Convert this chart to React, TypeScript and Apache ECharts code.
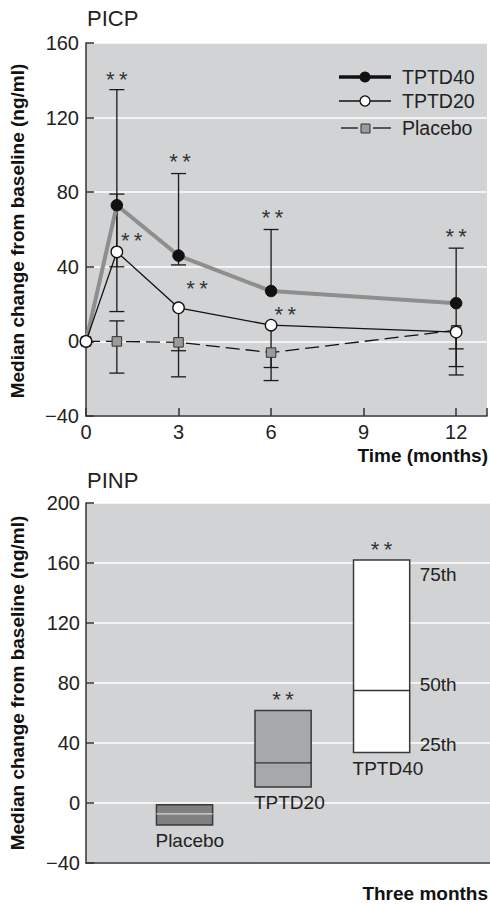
import React, { useEffect, useRef } from "react";
import * as echarts from "echarts";

// ---------- PICP (top panel) ----------
const months = [0, 1, 3, 6, 12];
const tptd40 = [0, 73, 46, 27, 20.5];
const tptd20 = [0, 48, 18, 8.7, 5];
const placebo = [0, 0, -0.5, -6, 6];
// whisker ends (null = not visible)
const tptd40Low = [null, 40, 41, null, -4];
const tptd40High = [null, 135, 90, 60, 50];
const tptd20Low = [null, 16, -5, -14, -13.5];
const tptd20High = [null, 79, null, null, null];
const placeboLow = [null, -17, -19, -21, -18];
const placeboHigh = [null, 11, null, null, null];
const picpStars: [number, number][] = [
  [1, 143], [1.48, 57], [3.05, 99], [3.6, 31], [6.05, 69], [6.46, 17], [12, 59],
];
const picpYMin = -40;
const picpYMax = 160;
const picpXMin = 0;
const picpXMax = 13;
const picpTickStep = 3;

// ---------- PINP (bottom panel) ----------
const pinpGroups = ["Placebo", "TPTD20", "TPTD40"];
const pinpQ1 = [-14.6, 10.7, 33.7];
const pinpMedian = [-7.2, 26.8, 75];
const pinpQ3 = [-1.1, 61.6, 162];
const pinpSignificant = [false, true, true];
const percentileLabels = ["75th", "50th", "25th"];
const pinpYMin = -40;
const pinpYMax = 200;

const FONT = "'Liberation Sans', Arial, sans-serif";
const TXT = "#222";
const BG = "#d2d3d5";
const AX = "#333";
const STAR = "*\u2009*";

const boxStyles = [
  { fill: "#808080", median: "#d8d8d8" },
  { fill: "#a7a8aa", median: "#333" },
  { fill: "#ffffff", median: "#333" },
];

const minusFmt = (v: number) => (v < 0 ? "\u2212" + Math.abs(v) : String(v));

export default function App() {
  const ref = useRef<HTMLDivElement>(null);
  useEffect(() => {
    if (!ref.current) return;
    const chart = echarts.init(ref.current, null, { renderer: "svg" });

    const errItems: { x: number; med: number; low: number | null; high: number | null }[] = [];
    months.forEach((m, i) => {
      const groups = [
        [tptd40[i], tptd40Low[i], tptd40High[i]],
        [tptd20[i], tptd20Low[i], tptd20High[i]],
        [placebo[i], placeboLow[i], placeboHigh[i]],
      ];
      groups.forEach(([med, low, high]) => {
        if (low == null && high == null) return;
        errItems.push({ x: m, med: med as number, low: low as any, high: high as any });
      });
    });

    const axisLineStyle = { color: AX, width: 1.5 };
    const labelStyle = { fontSize: 20, color: TXT, fontFamily: FONT };
    const starStyle = { text: STAR, fontSize: 22, fontFamily: FONT, fill: "#333", textAlign: "center", textVerticalAlign: "middle" };

    const option: any = {
      animation: false,
      grid: [
        { left: 86, top: 43, width: 408, height: 373, show: true, backgroundColor: BG, borderWidth: 0 },
        { left: 86, top: 503, width: 404, height: 360, show: true, backgroundColor: BG, borderWidth: 0 },
      ],
      xAxis: [
        {
          type: "value", gridIndex: 0, min: picpXMin, max: picpXMax, interval: picpTickStep,
          axisLine: { show: true, onZero: false, lineStyle: axisLineStyle },
          axisTick: { show: true, inside: true, length: 8, lineStyle: axisLineStyle },
          axisLabel: { ...labelStyle, margin: 6, formatter: (v: number) => (v % picpTickStep === 0 && v <= 12 ? String(v) : "") },
          splitLine: { show: false },
        },
        {
          type: "value", gridIndex: 1, min: 0, max: 4.1,
          axisLine: { show: true, onZero: false, lineStyle: axisLineStyle },
          axisTick: { show: false },
          axisLabel: { show: false },
          splitLine: { show: false },
        },
      ],
      yAxis: [
        {
          type: "value", gridIndex: 0, min: picpYMin, max: picpYMax, interval: 40,
          axisLine: { show: true, onZero: false, lineStyle: axisLineStyle },
          axisTick: { show: true, inside: true, length: 8, lineStyle: axisLineStyle },
          axisLabel: { ...labelStyle, margin: 7, formatter: minusFmt },
          splitLine: { show: true, lineStyle: { color: "#fff", width: 1.5 } },
        },
        {
          type: "value", gridIndex: 1, min: pinpYMin, max: pinpYMax, interval: 40,
          axisLine: { show: true, onZero: false, lineStyle: axisLineStyle },
          axisTick: { show: true, inside: true, length: 8, lineStyle: axisLineStyle },
          axisLabel: { ...labelStyle, margin: 6, formatter: minusFmt },
          splitLine: { show: true, lineStyle: { color: "#fff", width: 1.5 } },
        },
      ],
      series: [
        {
          type: "custom", name: "errorbars", xAxisIndex: 0, yAxisIndex: 0, z: 2, clip: false,
          data: errItems.map((d) => [d.x, d.med]),
          renderItem: (params: any, api: any) => {
            const d = errItems[params.dataIndex];
            const lo = d.low == null ? d.med : d.low;
            const hi = d.high == null ? d.med : d.high;
            const pLo = api.coord([d.x, lo]);
            const pHi = api.coord([d.x, hi]);
            const st = { stroke: "#1a1a1a", lineWidth: 1.3 };
            const children: any[] = [
              { type: "line", shape: { x1: pLo[0], y1: pLo[1], x2: pHi[0], y2: pHi[1] }, style: st },
            ];
            const hw = 7.5;
            if (d.low != null) children.push({ type: "line", shape: { x1: pLo[0] - hw, y1: pLo[1], x2: pLo[0] + hw, y2: pLo[1] }, style: st });
            if (d.high != null) children.push({ type: "line", shape: { x1: pHi[0] - hw, y1: pHi[1], x2: pHi[0] + hw, y2: pHi[1] }, style: st });
            return { type: "group", children };
          },
        },
        {
          type: "line", name: "TPTD40", xAxisIndex: 0, yAxisIndex: 0, z: 3, clip: false,
          data: months.map((m, i) => [m, tptd40[i]]),
          symbol: "circle", symbolSize: 11.5,
          itemStyle: { color: "#111", borderColor: "#111", borderWidth: 1 },
          lineStyle: { color: "#8e8e8e", width: 4 },
        },
        {
          type: "line", name: "Placebo", xAxisIndex: 0, yAxisIndex: 0, z: 4, clip: false,
          data: months.map((m, i) => [m, placebo[i]]),
          symbol: "rect", symbolSize: 9.5,
          itemStyle: { color: "#9b9b9b", borderColor: "#333", borderWidth: 1 },
          lineStyle: { color: "#111", width: 1.3, type: [14, 6] },
        },
        {
          type: "line", name: "TPTD20", xAxisIndex: 0, yAxisIndex: 0, z: 5, clip: false,
          data: months.map((m, i) => [m, tptd20[i]]),
          symbol: "circle", symbolSize: 11.5,
          itemStyle: { color: "#fff", borderColor: "#111", borderWidth: 1.3 },
          lineStyle: { color: "#111", width: 1.3 },
        },
        {
          type: "custom", name: "stars", xAxisIndex: 0, yAxisIndex: 0, z: 6, clip: false,
          data: picpStars,
          renderItem: (params: any, api: any) => {
            const p = api.coord([api.value(0), api.value(1)]);
            return { type: "text", x: p[0], y: p[1] + 5, style: { ...starStyle } };
          },
        },
        {
          type: "custom", name: "PINP", xAxisIndex: 1, yAxisIndex: 1, z: 3, clip: false,
          data: pinpGroups.map((g, i) => [i + 1, pinpQ1[i], pinpMedian[i], pinpQ3[i]]),
          renderItem: (params: any, api: any) => {
            const i = params.dataIndex;
            const x = api.value(0);
            const pBot = api.coord([x, api.value(1)]);
            const pMed = api.coord([x, api.value(2)]);
            const pTop = api.coord([x, api.value(3)]);
            const w = api.size([0.57, 0])[0];
            const left = pTop[0] - w / 2;
            const right = pTop[0] + w / 2;
            const sty = boxStyles[i];
            const txt = (text: string, tx: number, ty: number, align = "left") => ({
              type: "text", x: tx, y: ty,
              style: { text, fontSize: 19, fontFamily: FONT, fill: TXT, textAlign: align, textVerticalAlign: "middle" },
            });
            const children: any[] = [
              { type: "rect", shape: { x: left, y: pTop[1], width: w, height: pBot[1] - pTop[1] }, style: { fill: sty.fill, stroke: "#3a3a3a", lineWidth: 1.5 } },
              { type: "line", shape: { x1: left, y1: pMed[1], x2: right, y2: pMed[1] }, style: { stroke: sty.median, lineWidth: 1.3 } },
              txt(pinpGroups[i], left - 1, pBot[1] + 16),
            ];
            if (pinpSignificant[i]) {
              children.push({ type: "text", x: pTop[0], y: pTop[1] - 16 + 5, style: { ...starStyle } });
            }
            if (i === pinpGroups.length - 1) {
              children.push(txt(percentileLabels[0], right + 10, pTop[1] + 14));
              children.push(txt(percentileLabels[1], right + 10, pMed[1] - 6));
              children.push(txt(percentileLabels[2], right + 10, pBot[1] - 8));
            }
            return { type: "group", children };
          },
        },
      ],
      graphic: [
        { type: "text", x: 87, y: 18, style: { text: "PICP", fontSize: 22, fontFamily: FONT, fill: TXT, textAlign: "left", textVerticalAlign: "middle" } },
        { type: "text", x: 87, y: 480, style: { text: "PINP", fontSize: 22, fontFamily: FONT, fill: TXT, textAlign: "left", textVerticalAlign: "middle" } },
        { type: "text", x: 17, y: 231, rotation: Math.PI / 2, style: { text: "Median change from baseline (ng/ml)", fontSize: 19, fontWeight: "bold", fontFamily: FONT, fill: "#111", textAlign: "center", textVerticalAlign: "middle" } },
        { type: "text", x: 17, y: 683, rotation: Math.PI / 2, style: { text: "Median change from baseline (ng/ml)", fontSize: 19, fontWeight: "bold", fontFamily: FONT, fill: "#111", textAlign: "center", textVerticalAlign: "middle" } },
        { type: "text", x: 488, y: 455, style: { text: "Time (months)", fontSize: 19, fontWeight: "bold", fontFamily: FONT, fill: "#111", textAlign: "right", textVerticalAlign: "middle" } },
        { type: "text", x: 488, y: 893, style: { text: "Three months", fontSize: 19, fontWeight: "bold", fontFamily: FONT, fill: "#111", textAlign: "right", textVerticalAlign: "middle" } },
        // legend
        { type: "line", shape: { x1: 339, y1: 77, x2: 391, y2: 77 }, style: { stroke: "#111", lineWidth: 3.5 } },
        { type: "circle", shape: { cx: 365, cy: 77, r: 5.5 }, style: { fill: "#111" } },
        { type: "text", x: 402, y: 77, style: { text: "TPTD40", fontSize: 19.5, fontFamily: FONT, fill: TXT, textAlign: "left", textVerticalAlign: "middle" } },
        { type: "line", shape: { x1: 339, y1: 101, x2: 391, y2: 101 }, style: { stroke: "#111", lineWidth: 1.3 } },
        { type: "circle", shape: { cx: 365, cy: 101, r: 5 }, style: { fill: "#fff", stroke: "#111", lineWidth: 1.3 } },
        { type: "text", x: 402, y: 101, style: { text: "TPTD20", fontSize: 19.5, fontFamily: FONT, fill: TXT, textAlign: "left", textVerticalAlign: "middle" } },
        { type: "line", shape: { x1: 341, y1: 128, x2: 358, y2: 128 }, style: { stroke: "#111", lineWidth: 1.3 } },
        { type: "line", shape: { x1: 373, y1: 128, x2: 391, y2: 128 }, style: { stroke: "#111", lineWidth: 1.3 } },
        { type: "rect", shape: { x: 361, y: 124, width: 9, height: 9 }, style: { fill: "#9b9b9b", stroke: "#333", lineWidth: 1 } },
        { type: "text", x: 402, y: 128, style: { text: "Placebo", fontSize: 19.5, fontFamily: FONT, fill: TXT, textAlign: "left", textVerticalAlign: "middle" } },
      ],
    };
    chart.setOption(option);
    return () => chart.dispose();
  }, []);
  return <div ref={ref} style={{ position: "absolute", left: 0, top: 0, width: 490, height: 905 }} />;
}
